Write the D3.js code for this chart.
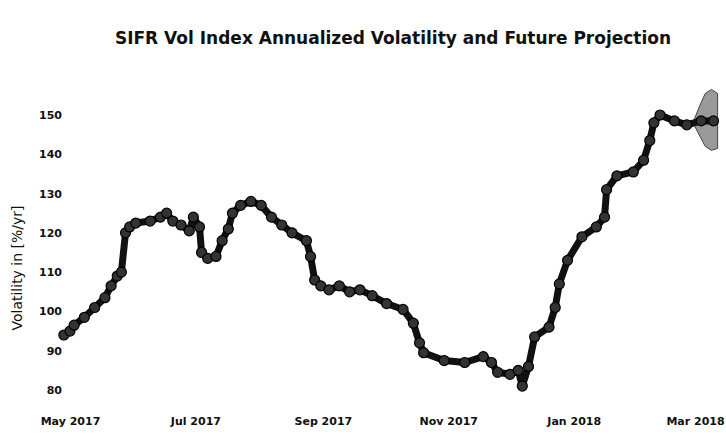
<!DOCTYPE html>
<html>
<head>
<meta charset="utf-8">
<script src="https://cdn.jsdelivr.net/npm/d3@7"></script>
<style>
  body { margin: 0; background: #fff; }
  text { font-family: "DejaVu Sans", Verdana, sans-serif; fill: #111; }
</style>
</head>
<body>
<script>
var W = 726, H = 438;

var dates = ["2017-04-28","2017-05-01","2017-05-03","2017-05-08","2017-05-13","2017-05-18",
  "2017-05-21","2017-05-24","2017-05-26","2017-05-28","2017-05-30","2017-06-02","2017-06-09",
  "2017-06-14","2017-06-17","2017-06-20","2017-06-24","2017-06-28","2017-06-30","2017-07-03",
  "2017-07-04","2017-07-07","2017-07-11","2017-07-14","2017-07-17","2017-07-19","2017-07-23",
  "2017-07-28","2017-08-02","2017-08-07","2017-08-12","2017-08-17","2017-08-24","2017-08-26",
  "2017-08-28","2017-08-31","2017-09-04","2017-09-09","2017-09-14","2017-09-19","2017-09-25",
  "2017-10-02","2017-10-10","2017-10-15","2017-10-18","2017-10-20","2017-10-30","2017-11-09",
  "2017-11-18","2017-11-22","2017-11-25","2017-12-01","2017-12-05","2017-12-07","2017-12-10",
  "2017-12-13","2017-12-20","2017-12-23","2017-12-25","2017-12-29","2018-01-05","2018-01-12",
  "2018-01-16","2018-01-17","2018-01-22","2018-01-30","2018-02-04","2018-02-07","2018-02-09",
  "2018-02-12","2018-02-19","2018-02-25","2018-03-04","2018-03-10"];
var vols = [94, 95, 96.5, 98.5, 101, 103.5,
  106.5, 109, 110, 120, 121.5, 122.5, 123,
  124, 125, 123, 122, 120.5, 124, 121.5,
  115, 113.5, 114, 118, 121, 125, 127,
  128, 127, 124, 122, 120, 118, 114,
  108, 106.5, 105.5, 106.5, 105, 105.5, 104,
  102, 100.5, 97, 92, 89.5, 87.5, 87,
  88.5, 87, 84.5, 84, 85, 81, 86,
  93.5, 96, 101, 107, 113, 119, 121.5,
  124, 131, 134.5, 135.5, 138.5, 143.5, 148,
  150, 148.5, 147.5, 148.5, 148.5];

// future projection band
var fcDates = ["2018-02-28","2018-03-03","2018-03-06","2018-03-09","2018-03-12"];
var fcUpper = [148, 152, 155.5, 156.5, 155.5];
var fcLower = [148, 145, 142, 141, 141.5];

var yTicks = [80, 90, 100, 110, 120, 130, 140, 150];
var xTicks = ["2017-05-01","2017-07-01","2017-09-01","2017-11-01","2018-01-01","2018-03-01"];

var parse = d3.timeParse("%Y-%m-%d");
var series = dates.map(function(d, i) { return { date: parse(d), v: vols[i] }; });
var band = fcDates.map(function(d, i) { return { date: parse(d), hi: fcUpper[i], lo: fcLower[i] }; });

var x = d3.scaleTime()
  .domain([parse("2017-05-01"), parse("2018-03-01")])
  .range([70, 695]);
var y = d3.scaleLinear()
  .domain([80, 150])
  .range([390, 115]);

var svg = d3.select("body").append("svg")
  .attr("width", W)
  .attr("height", H);

svg.append("text")
  .attr("x", 393)
  .attr("y", 44)
  .attr("text-anchor", "middle")
  .attr("font-size", 17)
  .attr("font-weight", "bold")
  .text("SIFR Vol Index Annualized Volatility and Future Projection");

// axes, labels only
var yAxis = svg.append("g")
  .attr("transform", "translate(62,0)")
  .call(d3.axisLeft(y).tickValues(yTicks).tickSize(0).tickPadding(0));
var xAxis = svg.append("g")
  .attr("transform", "translate(0,417)")
  .call(d3.axisBottom(x).tickValues(xTicks.map(parse)).tickSize(0).tickPadding(0)
    .tickFormat(d3.timeFormat("%b %Y")));
[yAxis, xAxis].forEach(function(g) {
  g.select(".domain").remove();
  g.selectAll("text")
    .attr("font-family", "DejaVu Sans, sans-serif")
    .attr("font-size", 11)
    .attr("font-weight", "bold")
    .attr("fill", "#111");
});

svg.append("text")
  .attr("transform", "translate(22,268) rotate(-90)")
  .attr("text-anchor", "middle")
  .attr("font-size", 14)
  .text("Volatility in [%/yr]");

// projection band
svg.append("path")
  .datum(band)
  .attr("fill", "#9a9a9a")
  .attr("stroke", "#444")
  .attr("stroke-width", 1)
  .attr("d", d3.area()
    .x(function(d) { return x(d.date); })
    .y0(function(d) { return y(d.lo); })
    .y1(function(d) { return y(d.hi); }));

// volatility line with markers
svg.append("path")
  .datum(series)
  .attr("fill", "none")
  .attr("stroke", "#111")
  .attr("stroke-width", 7)
  .attr("stroke-linejoin", "round")
  .attr("d", d3.line()
    .x(function(d) { return x(d.date); })
    .y(function(d) { return y(d.v); }));

svg.append("g").selectAll("circle")
  .data(series)
  .join("circle")
  .attr("cx", function(d) { return x(d.date); })
  .attr("cy", function(d) { return y(d.v); })
  .attr("r", 5)
  .attr("fill", "#333")
  .attr("stroke", "#000")
  .attr("stroke-width", 1.2);
</script>
</body>
</html>
